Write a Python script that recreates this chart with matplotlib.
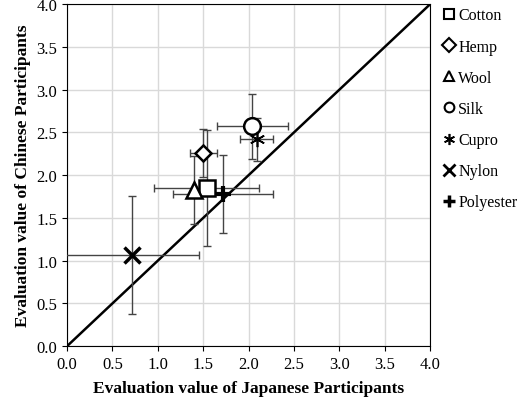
import matplotlib
matplotlib.use("Agg")
import matplotlib.pyplot as plt
from matplotlib.lines import Line2D

plt.rcParams['font.family'] = ['Liberation Serif', 'DejaVu Serif']

names = ["Cotton", "Hemp", "Wool", "Silk", "Cupro", "Nylon", "Polyester"]
markers = ["s", "D", "^", "o", (6, 2, 0), "x", "P"]
xv = [1.54, 1.50, 1.40, 2.04, 2.09, 0.72, 1.72]
yv = [1.85, 2.26, 1.83, 2.57, 2.42, 1.07, 1.78]
xerr = [0.58, 0.15, 0.0, 0.39, 0.18, 0.73, 0.55]
yerr = [0.68, 0.28, 0.40, 0.38, 0.25, 0.69, 0.46]
msz = [11, 8, 12, 12, 11, 12, 11]

fig = plt.figure(figsize=(5.2, 4.06), dpi=100)
ax = fig.add_axes([0.129, 0.145, 0.698, 0.842])
ax.plot([0, 4], [0, 4], color='black', lw=1.8, zorder=2)
for n, m, x, y, xe, ye, s in zip(names, markers, xv, yv, xerr, yerr, msz):
    ax.errorbar(x, y, xerr=xe, yerr=ye, fmt='none', ecolor='#444444', elinewidth=1, capsize=3, zorder=3)
    filled = m in ("x", "P") or isinstance(m, tuple)
    if m == "P":
        ax.plot(x, y, marker='+', ms=s, mew=3, color='black', ls='none', zorder=4)
    elif filled:
        ax.plot(x, y, marker=m, ms=s, mew=2.5 if m == "x" else 1.2, color='black', ls='none', zorder=4)
    else:
        ax.plot(x, y, marker=m, ms=s, mfc='white', mec='black', mew=1.8, ls='none', zorder=4)

ax.set_xlim(0, 4); ax.set_ylim(0, 4)
ticks = [i * 0.5 for i in range(9)]
ax.set_xticks(ticks); ax.set_yticks(ticks)
ax.set_xticklabels([f"{t:.1f}" for t in ticks], fontsize=12)
ax.set_yticklabels([f"{t:.1f}" for t in ticks], fontsize=12)
ax.grid(True, color='#d9d9d9', lw=1)
ax.set_axisbelow(True)
for sp in ax.spines.values():
    sp.set_color('black')
ax.set_xlabel("Evaluation value of Japanese Participants", fontsize=12.5, fontweight='bold', labelpad=6)
ax.set_ylabel("Evaluation value of Chinese Participants", fontsize=12.5, fontweight='bold', labelpad=4)

handles = []
for n, m in zip(names, markers):
    if m == "P":
        h = Line2D([], [], marker='+', ms=8, mew=2.5, color='black', ls='none')
    elif m == "x" or isinstance(m, tuple):
        h = Line2D([], [], marker=m, ms=8, mew=2 if m == "x" else 1.2, color='black', ls='none')
    else:
        h = Line2D([], [], marker=m, ms=7, mfc='white', mec='black', mew=1.5, ls='none')
    handles.append(h)
fig.legend(handles, names, loc='upper left', bbox_to_anchor=(0.835, 0.995), frameon=False,
           fontsize=11.5, handletextpad=0.1, labelspacing=0.95, handlelength=1.0, borderaxespad=0)
fig.savefig("out.png", dpi=100)
